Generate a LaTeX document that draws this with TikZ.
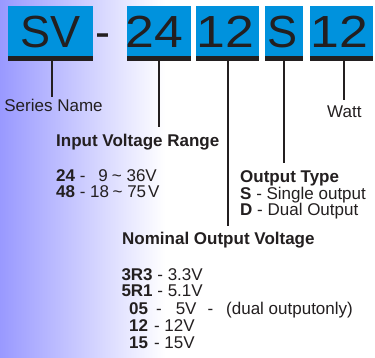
\documentclass[tikz,border=0pt]{standalone}
\usepackage{fontspec}
\setmainfont{Liberation Sans}
\newfontfamily\bigfont{Liberation Sans}
\usepackage{graphicx}
\definecolor{codeblue}{RGB}{0,146,221}
\definecolor{inkc}{RGB}{35,31,32}
\definecolor{bgl}{RGB}{153,153,255}
\begin{document}
\begin{tikzpicture}[x=1pt,y=-1pt,
  codebox/.style={fill=codeblue, draw=none, inner sep=0pt, outer sep=0pt, anchor=north west, minimum height=50pt},
  barfill/.style={fill=inkc, draw=none},
  bigtxt/.style={font=\bigfont\fontsize{45}{45}\selectfont, text=inkc, inner sep=0pt, anchor=base},
  lbl/.style={font=\fontsize{17}{20}\selectfont, text=inkc, inner sep=0pt, anchor=base west},
  lead/.style={draw=inkc, line width=2pt},
]
\useasboundingbox (0,0) rectangle (375,358);
\fill[white] (0,0) rectangle (375,358);
\shade[left color=bgl, right color=white] (0,0) rectangle (165,358);

% code boxes
\node[codebox, minimum width=85pt] (bsv) at (8,6) {};
\node[codebox, minimum width=64pt] (b24) at (127,6) {};
\node[codebox, minimum width=63pt] (b12) at (196,6) {};
\node[codebox, minimum width=38pt] (bS) at (265,6) {};
\node[codebox, minimum width=63pt] (bW) at (310,6) {};
% bars
\fill[barfill] (bsv.south west) rectangle ++(85,5);
\fill[barfill] (b24.south west) rectangle ++(64,5);
\fill[barfill] (b12.south west) rectangle ++(63,5);
\fill[barfill] (bS.south west) rectangle ++(38,5);
\fill[barfill] (bW.south west) rectangle ++(63,5);

% code text
\node[bigtxt] (tsv) at (50.5,47.5) {SV};
\node[bigtxt] (tdash) at (103,47.5) {-};
\node[bigtxt] (t24) at (154.5,47.5) {\scalebox{1.15}[1]{24}};
\node[bigtxt] (t12) at (225.5,47.5) {\scalebox{1.15}[1]{12}};
\node[bigtxt] (tS) at (283,47.5) {S};
\node[bigtxt] (tW) at (339.5,47.5) {\scalebox{1.15}[1]{12}};

% labels
\node[lbl] (series) at (4.2,112) {Series Name};
\node[lbl] (watt) at (327,118) {Watt};
\node[lbl] (ivr) at (56,147) {\textbf{Input Voltage Range}};
\node[lbl] (iv1) at (56,182) {\textbf{24} -\hspace{13pt}9\hspace{4pt}\textasciitilde{} 36V};
\node[lbl] (iv2) at (56,198) {\textbf{48} - 18\hspace{3.5pt}\textasciitilde{} 75\hspace{2pt}V};
\node[lbl] (otype) at (240,183) {\textbf{Output Type}};
\node[lbl] (os) at (240,199.5) {\textbf{S} - Single output};
\node[lbl] (od) at (240,216) {\textbf{D} - Dual Output};
\node[lbl] (nov) at (122,245) {\textbf{Nominal Output Voltage}};
\node[lbl] (r1) at (121.3,280) {\textbf{3R3} - 3.3V};
\node[lbl] (r2) at (121.3,297) {\textbf{5R1} - 5.1V};
\node[lbl] (r3) at (129,314) {\textbf{05}\hspace{8pt}-\hspace{14pt}5V\hspace{11pt}-\hspace{13pt}(dual outputonly)};
\node[lbl] (r4) at (129,331) {\textbf{12}\hspace{6pt}- 12V};
\node[lbl] (r5) at (129,348) {\textbf{15}\hspace{6pt}- 15V};

% leads
\coordinate (sv-foot) at (52,61);   \coordinate (sv-end) at (52,97);
\coordinate (in-foot) at (159,61);  \coordinate (in-end) at (159,127);
\coordinate (no-foot) at (228,61);  \coordinate (no-end) at (228,226);
\coordinate (ot-foot) at (284,61);  \coordinate (ot-end) at (284,163);
\coordinate (wa-foot) at (344,61);  \coordinate (wa-end) at (344,100);
\draw[lead] (sv-foot) -- (sv-end);
\draw[lead] (in-foot) -- (in-end);
\draw[lead] (no-foot) -- (no-end);
\draw[lead] (ot-foot) -- (ot-end);
\draw[lead] (wa-foot) -- (wa-end);
\end{tikzpicture}
\end{document}
